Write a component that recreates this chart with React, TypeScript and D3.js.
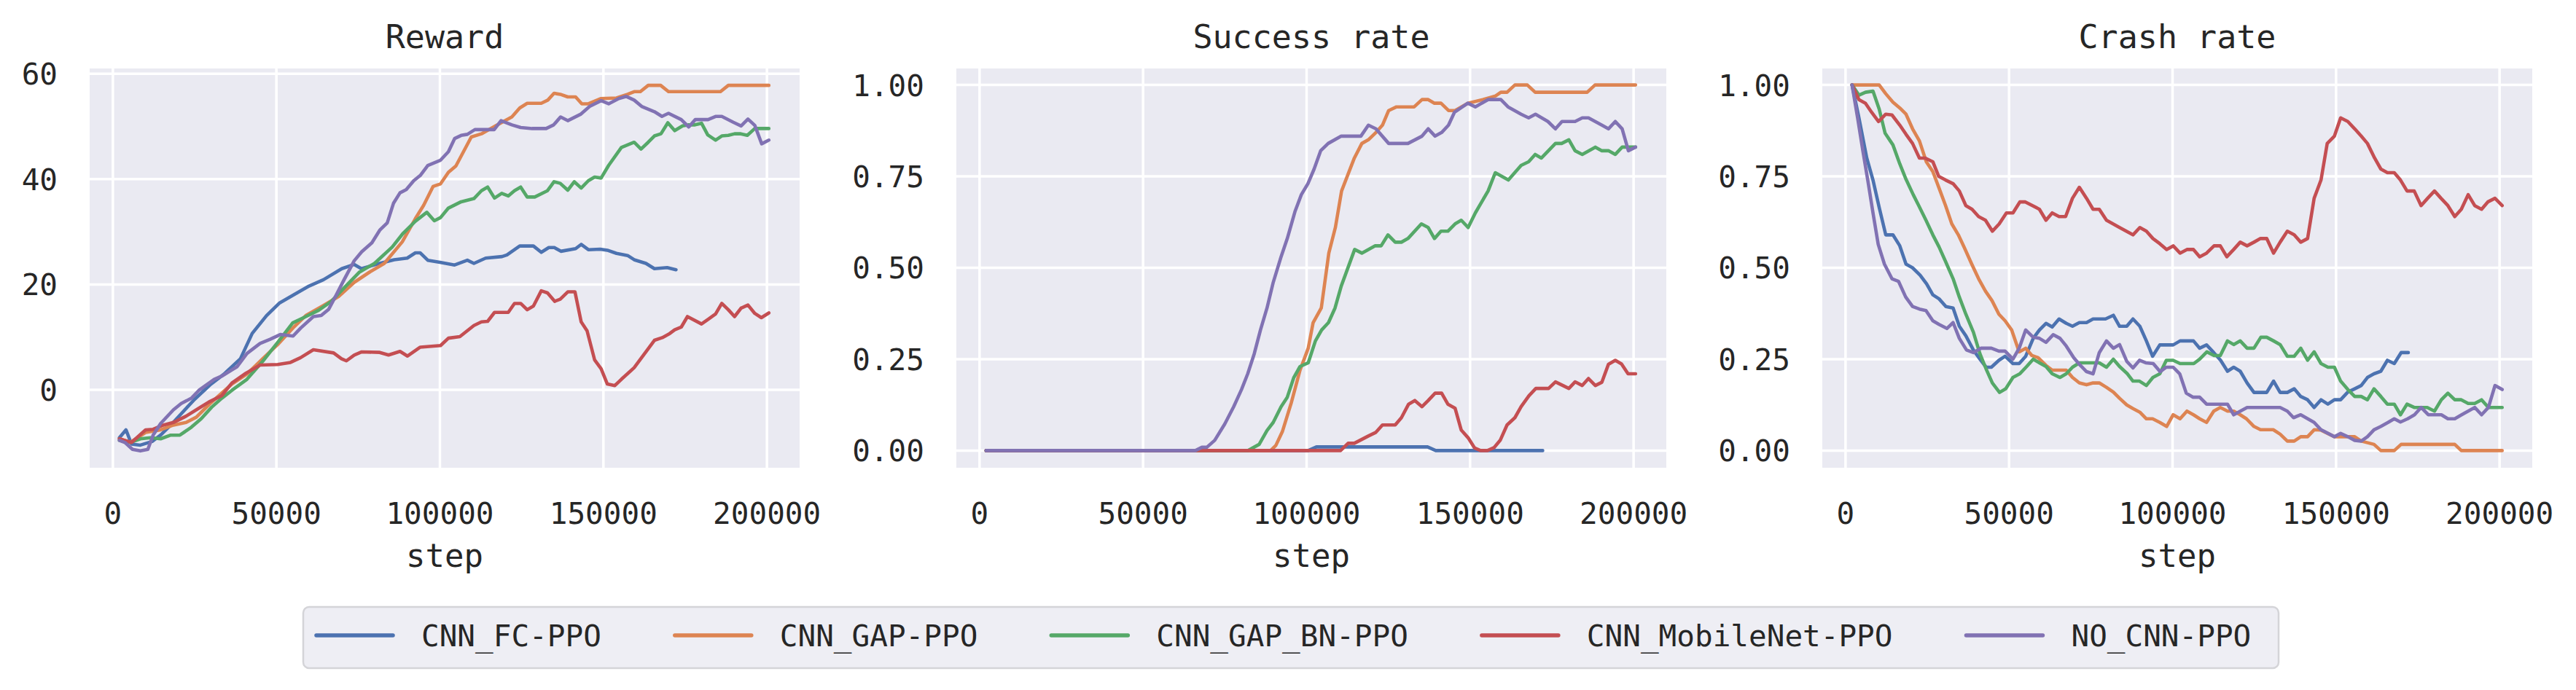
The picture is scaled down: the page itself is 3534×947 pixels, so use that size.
import { useEffect, useRef } from 'react'
import * as d3 from 'd3'

// steps are in thousands: [step (k), value]
type Pt = [number, number]

const rewardFc: Pt[] = [[2,-9.1],[4,-7.6],[5.7,-10.3],[8.4,-10.5],[12,-9.8],[14.6,-8.6],[17.7,-6.7],[22,-3.8],[25,-1.8],[30,1.1],[34,3],[39,5.9],[42.6,10.7],[47,14.1],[51,16.5],[56.6,18.5],[60,19.7],[64.4,20.9],[70,23],[73.8,23.8],[76,23],[81.6,24],[86,24.7],[90,25],[92.5,26],[94,26],[96.3,24.6],[100,24.2],[104.5,23.7],[108.4,24.6],[110.4,24],[114,25],[119,25.3],[120.5,25.6],[124.4,27.3],[128.6,27.3],[131,26.1],[133.3,27],[135,27],[137,26.3],[141.5,26.8],[143.2,27.6],[145.4,26.6],[149,26.7],[151.2,26.5],[154,25.9],[157.4,25.5],[159.4,24.7],[163,24],[165.6,23],[169.5,23.2],[172.2,22.8]]
const rewardGap: Pt[] = [[2,-9.3],[5.3,-10],[10,-8.1],[14.6,-7.6],[18.5,-6.7],[22.4,-6.2],[25.5,-5.2],[29.4,-2.8],[33.3,-0.6],[36.4,1.1],[41,3],[45.8,5.9],[50.4,8.6],[55,11.7],[59,14.1],[64.4,16],[69,17.7],[73.8,20.4],[78.4,22.3],[83,24],[88.5,28.1],[92.5,32.5],[95,35],[97.9,38.6],[100.2,39.1],[102.6,41.3],[104.9,42.5],[109.6,48],[112.7,48.6],[117,50.1],[122,51.8],[124.4,53.5],[126.7,54.4],[131,54.4],[133,55],[134.9,56.3],[136.8,56.1],[139.1,55.6],[141.5,55.6],[143.4,54.3],[145.4,54.3],[149.3,55.3],[154,55.4],[157.4,56.1],[159.4,56.6],[161.3,56.6],[163.7,57.8],[167.5,57.8],[169.9,56.6],[185.8,56.6],[188.2,57.8],[200.6,57.8]]
const rewardGapBn: Pt[] = [[2,-9.6],[5.3,-10],[8.4,-9.3],[11.5,-9.1],[14.6,-9.3],[17.7,-8.6],[20.5,-8.6],[24,-7.1],[27,-5.5],[30.2,-3.3],[33.3,-1.6],[36.4,-0.1],[41,2],[45.8,5.4],[50.4,9],[55,12.7],[59,13.9],[62.9,15.1],[66.8,16.8],[70,18.9],[75.3,22.3],[80,24],[85.4,27.1],[88.6,29.6],[92.5,32],[96,33.7],[98.3,32.1],[100.2,32.7],[102.6,34.5],[106.5,35.7],[110.4,36.3],[112.7,37.8],[114.6,38.5],[116.7,36.4],[118.9,37.3],[120.9,36.8],[122.8,37.8],[124.7,38.5],[126.7,36.6],[129,36.6],[132.9,37.8],[134.9,39.5],[136.8,39.2],[139.1,37.9],[141.1,39.5],[143.2,38.3],[145.4,39.7],[147.3,40.4],[149.3,40.2],[151.6,42.6],[155.5,46],[159.4,47],[161.5,45.7],[163.7,47],[165.6,48.2],[167.6,48.6],[169.7,50.7],[171.8,49.2],[174.2,50.1],[176.1,50.3],[178,50.3],[180,50.6],[181.9,48.4],[184.3,47.4],[186.2,48.2],[188.2,48.3],[190.1,48.6],[192,48.6],[194,48.3],[196.3,49.6],[200.6,49.6]]
const rewardMobile: Pt[] = [[2,-9.3],[5.7,-10],[10,-7.6],[12.3,-7.5],[15.4,-6.7],[18.5,-6.2],[22.4,-5],[26.3,-3.5],[29.4,-2.3],[33.3,-1.1],[36.4,1.3],[40.3,3],[45,4.7],[50.4,4.8],[54.3,5.2],[57.4,6.1],[61.3,7.6],[67.5,7],[69.9,5.9],[71.4,5.5],[73.8,6.6],[76.1,7.2],[81.6,7.1],[84.3,6.6],[87.8,7.3],[90.1,6.4],[94,8.1],[100.2,8.4],[102.6,9.8],[106.1,10.1],[110.4,12.2],[112.7,12.9],[114.6,13],[116.7,14.7],[120.9,14.7],[122.8,16.4],[124.7,16.4],[126.7,15.2],[128.6,15.9],[131,18.8],[132.9,18.4],[135.1,16.8],[136.8,17.2],[139.1,18.6],[141.3,18.6],[143.2,12.9],[145,11.2],[147.3,5.7],[149.3,4],[151.2,1.1],[153.5,0.8],[155.5,2],[159.4,4.2],[163.7,7.8],[165.6,9.4],[168,9.9],[170.3,10.7],[171.8,11.4],[173.8,11.9],[175.7,13.9],[180,12.5],[182.3,13.5],[184.3,14.4],[186.2,16.4],[188.2,15.2],[190.1,13.9],[192.1,15.5],[194.2,16.1],[196.3,14.5],[198.3,13.7],[200.6,14.6]]
const rewardNoCnn: Pt[] = [[2,-9.6],[3.7,-10],[6,-11.3],[8.4,-11.6],[10.7,-11.3],[12.3,-8.6],[14.6,-6.4],[18.5,-3.8],[20.9,-2.6],[24,-1.6],[26.3,-0.1],[31,2],[33.3,2.6],[38,4.4],[41,6.9],[45,8.8],[48.1,9.6],[51.2,10.5],[55.1,10.2],[57.4,11.7],[61.3,13.9],[63.7,14.1],[66,15.3],[68.3,18],[70.7,20.9],[73.8,24.5],[76.1,26.2],[79.2,27.9],[81.6,30.3],[83.9,31.7],[85.8,35.4],[87.8,37.4],[89.7,38],[92,39.7],[94,40.7],[96.3,42.6],[100.2,43.6],[102.6,45.2],[104.5,47.7],[106.5,48.3],[108.4,48.5],[110.7,49.4],[116.6,49.4],[118.7,51.1],[122,50.3],[124.7,49.8],[128.2,49.6],[132.5,49.6],[134.8,50.3],[136.9,51.8],[139.1,51.1],[143,52.3],[145.8,53.8],[149.3,54.9],[151.6,54.3],[154.7,55.3],[157,55.7],[159.4,55],[161.7,53.8],[165.6,52.8],[167.9,51.9],[169.9,52.5],[173.8,51.3],[176.1,49.9],[178.1,51.3],[182,51.3],[184.3,51.9],[186.2,51.9],[189.7,50.8],[192.1,50.1],[194.2,51.4],[196.3,50.2],[198.4,46.7],[200.6,47.4]]

const successFc: Pt[] = [[2,0],[100.5,0],[103,0.01],[137,0.01],[139.5,0],[172.2,0]]
const successGap: Pt[] = [[2,0],[89,0],[90.6,0.014],[92.6,0.052],[95.3,0.13],[98,0.22],[100.5,0.28],[102,0.35],[104.5,0.39],[106.8,0.54],[108.8,0.61],[110.7,0.71],[114.6,0.8],[116.9,0.84],[118.9,0.85],[121.2,0.87],[123.2,0.89],[125.1,0.93],[127.5,0.94],[132.9,0.94],[135.3,0.96],[137.2,0.96],[139.1,0.95],[141.1,0.95],[143.4,0.93],[145.4,0.93],[149.3,0.95],[151.6,0.955],[153.9,0.96],[157.8,0.97],[159.4,0.98],[161.3,0.98],[163.7,1],[167.5,1],[169.9,0.98],[185.8,0.98],[188.2,1],[200.6,1]]
const successGapBn: Pt[] = [[2,0],[82,0],[85.5,0.017],[87.9,0.055],[89.8,0.077],[92.2,0.12],[94.1,0.146],[96.1,0.2],[98,0.23],[100.5,0.24],[102.7,0.3],[104.6,0.33],[106.7,0.35],[108.7,0.39],[110.6,0.45],[114.7,0.55],[116.9,0.54],[120.9,0.56],[122.8,0.56],[124.9,0.59],[127.1,0.57],[129,0.57],[131,0.58],[135.1,0.62],[137.2,0.61],[139.1,0.58],[141.1,0.6],[143.2,0.6],[145.4,0.62],[147.3,0.63],[149.4,0.61],[151.6,0.65],[155.5,0.71],[157.7,0.76],[161.7,0.74],[165.6,0.78],[167.9,0.79],[169.9,0.81],[171.8,0.8],[176.1,0.84],[178,0.84],[180.2,0.85],[182.1,0.82],[184.3,0.81],[188.3,0.83],[190.3,0.82],[192.4,0.82],[194.4,0.81],[196.5,0.83],[200.6,0.83]]
const successMobile: Pt[] = [[2,0],[110.4,0],[112.7,0.02],[114.6,0.02],[118.9,0.04],[121.2,0.05],[123.2,0.07],[127.1,0.07],[129,0.09],[131.2,0.127],[133.1,0.137],[135.3,0.12],[137.2,0.137],[139.3,0.157],[141.3,0.157],[143.2,0.127],[145.4,0.116],[147.3,0.056],[149.4,0.035],[151.4,0.007],[153.2,0],[155.3,0],[157.3,0.008],[159.2,0.028],[161.3,0.07],[163.7,0.09],[165.6,0.12],[168,0.15],[170.1,0.17],[174,0.17],[176.1,0.188],[180.2,0.17],[182.1,0.188],[184.3,0.178],[186.2,0.197],[188.3,0.178],[190.3,0.187],[192.3,0.236],[194.4,0.247],[196.3,0.237],[198.3,0.21],[200.6,0.21]]
const successNoCnn: Pt[] = [[2,0],[66,0],[68,0.009],[69.5,0.009],[71.9,0.028],[75,0.073],[77.7,0.12],[80.1,0.167],[82,0.21],[84,0.265],[85.9,0.33],[87.9,0.39],[89.8,0.46],[92.2,0.53],[94.1,0.58],[96.5,0.655],[98.4,0.7],[100.4,0.73],[102.3,0.77],[104.3,0.82],[106.6,0.84],[110.6,0.86],[116.6,0.86],[118.9,0.89],[121.2,0.88],[125.1,0.84],[131,0.84],[135.3,0.86],[137.2,0.88],[139.3,0.86],[141.3,0.87],[143.4,0.89],[145.2,0.925],[149.3,0.95],[151.6,0.94],[155.5,0.96],[159.4,0.96],[161.6,0.94],[165.6,0.92],[167.9,0.91],[170,0.92],[173.8,0.9],[176.1,0.88],[178.1,0.9],[182.1,0.9],[184.3,0.91],[186.2,0.91],[190.3,0.89],[192.3,0.88],[194.4,0.9],[196.5,0.88],[198.4,0.82],[200.6,0.83]]

const crashFc: Pt[] = [[2,1],[4.1,0.91],[6.5,0.8],[8.4,0.74],[10.3,0.665],[12.3,0.59],[14.5,0.59],[16.6,0.56],[18.5,0.51],[20.5,0.5],[22.8,0.48],[24.8,0.456],[26.7,0.426],[28.6,0.415],[30.7,0.394],[32.9,0.39],[34.8,0.34],[36.8,0.314],[39.1,0.275],[41.1,0.25],[43,0.228],[44.6,0.228],[46.9,0.247],[48.8,0.258],[51.2,0.238],[53.1,0.238],[55.1,0.258],[57.4,0.307],[59.3,0.33],[61.3,0.348],[63.2,0.338],[65.3,0.36],[67.5,0.348],[69.4,0.34],[71.5,0.35],[73.7,0.35],[75.7,0.36],[79.5,0.36],[81.9,0.37],[83.8,0.34],[86,0.34],[87.9,0.36],[90,0.34],[92,0.3],[93.9,0.258],[96.1,0.289],[100.2,0.289],[102.3,0.3],[106.4,0.3],[108.3,0.28],[110.4,0.289],[112.6,0.268],[114.7,0.247],[116.8,0.217],[118.7,0.228],[120.7,0.217],[122.8,0.185],[124.9,0.159],[128.8,0.159],[130.9,0.19],[132.9,0.159],[135.1,0.159],[137.2,0.169],[139.2,0.148],[141.3,0.139],[143.3,0.118],[145.4,0.139],[147.5,0.127],[149.5,0.139],[151.4,0.139],[153.6,0.16],[155.7,0.169],[157.7,0.178],[159.6,0.2],[161.6,0.21],[163.7,0.217],[165.7,0.247],[167.8,0.238],[169.9,0.268],[172.1,0.268]]
const crashGap: Pt[] = [[2,1],[10.3,1],[12.3,0.976],[14.5,0.953],[16.6,0.937],[18.5,0.92],[20.5,0.88],[22.6,0.847],[24.7,0.79],[26.7,0.763],[28.6,0.718],[30.6,0.67],[32.5,0.62],[34.5,0.59],[36.4,0.554],[38.6,0.51],[40.7,0.47],[42.8,0.436],[44.8,0.41],[46.9,0.373],[48.8,0.355],[50.8,0.33],[53.1,0.27],[55.1,0.28],[57,0.26],[58.9,0.254],[61.3,0.233],[63.2,0.22],[67.5,0.22],[69.4,0.2],[71.5,0.185],[73.7,0.18],[75.7,0.185],[77.6,0.185],[79.8,0.173],[81.9,0.16],[83.8,0.143],[86,0.125],[87.9,0.115],[90,0.105],[92,0.087],[93.9,0.087],[96.1,0.077],[98.2,0.066],[100.2,0.098],[102.3,0.087],[104.4,0.108],[106.4,0.098],[108.3,0.087],[110.4,0.077],[112.6,0.108],[114.6,0.118],[116.8,0.108],[118.7,0.108],[120.7,0.098],[122.6,0.087],[124.9,0.066],[126.9,0.057],[130.8,0.057],[132.9,0.045],[135.1,0.026],[137.2,0.026],[139.2,0.038],[141.3,0.038],[143.3,0.057],[145.4,0.056],[149.5,0.038],[155.7,0.038],[157.7,0.026],[161.6,0.017],[163.7,0],[167.8,0],[169.9,0.017],[186.3,0.017],[188.3,0],[200.8,0]]
const crashGapBn: Pt[] = [[2,1],[4.1,0.972],[6.1,0.98],[8.4,0.983],[10.3,0.934],[12.1,0.868],[14.5,0.836],[16.6,0.784],[18.5,0.742],[20.7,0.7],[22.4,0.67],[24.6,0.63],[26.7,0.59],[28.6,0.557],[30.7,0.515],[32.9,0.47],[34.8,0.42],[36.8,0.373],[39.1,0.324],[41.1,0.265],[43,0.223],[44.9,0.185],[47.1,0.159],[49,0.169],[51.2,0.2],[53.3,0.21],[55.4,0.23],[57.4,0.25],[59.3,0.24],[61.3,0.23],[63.2,0.21],[65.6,0.2],[67.5,0.21],[69.4,0.228],[71.5,0.24],[77.6,0.24],[79.8,0.228],[81.9,0.25],[83.8,0.23],[86.2,0.21],[87.9,0.19],[89.9,0.19],[92,0.178],[94,0.2],[96.1,0.21],[98.1,0.247],[100.2,0.247],[102.3,0.238],[106.5,0.238],[108.3,0.25],[110.5,0.27],[112.7,0.26],[114.6,0.26],[116.8,0.3],[118.7,0.29],[120.7,0.3],[122.8,0.28],[124.9,0.28],[127,0.31],[128.8,0.31],[130.9,0.3],[132.9,0.29],[135.1,0.258],[137.2,0.258],[139.2,0.28],[141.3,0.247],[143.3,0.27],[145.4,0.238],[147.5,0.228],[149.5,0.228],[151.4,0.19],[153.6,0.167],[155.7,0.148],[157.7,0.148],[159.6,0.139],[161.6,0.169],[163.7,0.148],[165.7,0.127],[167.8,0.127],[169.7,0.098],[171.7,0.127],[173.9,0.118],[177.9,0.118],[180.1,0.108],[182.2,0.139],[184.2,0.157],[186.3,0.139],[188.3,0.139],[190.4,0.129],[192.4,0.129],[194.5,0.139],[196.6,0.118],[200.8,0.118]]
const crashMobile: Pt[] = [[2,1],[4.1,0.96],[6.1,0.95],[8,0.925],[10.1,0.9],[12.3,0.92],[14.2,0.918],[16.6,0.89],[18.5,0.865],[20.5,0.84],[22.6,0.8],[24.3,0.8],[26.7,0.79],[28.5,0.75],[30.6,0.74],[32.9,0.73],[34.8,0.71],[36.8,0.67],[38.7,0.66],[40.7,0.64],[42.8,0.63],[44.9,0.6],[47,0.62],[49.2,0.65],[51.2,0.65],[53.3,0.68],[55,0.68],[59.3,0.66],[61.3,0.63],[63.2,0.65],[65.3,0.64],[67.3,0.64],[69.4,0.69],[71.5,0.72],[73.7,0.69],[75.7,0.66],[77.6,0.66],[79.8,0.63],[83.8,0.61],[87.9,0.59],[90,0.61],[92,0.6],[94,0.58],[96.1,0.566],[98.2,0.55],[100.2,0.56],[102.3,0.54],[104.4,0.55],[106.4,0.55],[108.3,0.53],[110.4,0.54],[112.7,0.56],[114.6,0.56],[116.6,0.53],[118.7,0.55],[120.7,0.57],[122.8,0.56],[124.9,0.57],[126.9,0.58],[128.8,0.58],[130.9,0.54],[132.9,0.57],[135.1,0.6],[137.2,0.59],[139.2,0.57],[141.3,0.58],[143.3,0.69],[145.4,0.74],[147.3,0.84],[149.5,0.86],[151.4,0.91],[153.6,0.9],[155.7,0.88],[157.7,0.86],[159.6,0.84],[161.8,0.8],[163.7,0.77],[165.7,0.76],[167.8,0.76],[169.7,0.74],[171.7,0.71],[173.9,0.71],[176,0.67],[178,0.69],[180.1,0.71],[182.1,0.69],[184.2,0.67],[186.3,0.64],[188.3,0.66],[190.4,0.7],[192.4,0.67],[194.5,0.66],[196.4,0.68],[198.6,0.69],[200.8,0.67]]
const crashNoCnn: Pt[] = [[2,1],[3.7,0.91],[5.3,0.82],[6.8,0.74],[8.4,0.65],[10,0.564],[11.9,0.51],[14.2,0.47],[16.2,0.463],[18.4,0.42],[20.5,0.394],[22.6,0.387],[24.6,0.383],[26.7,0.355],[28.6,0.345],[31,0.334],[32.9,0.35],[34.8,0.307],[37,0.275],[39.1,0.268],[41.4,0.28],[44.6,0.28],[46.9,0.272],[48.8,0.272],[51.2,0.25],[53.1,0.28],[55.1,0.33],[57.4,0.31],[59.3,0.307],[61.3,0.296],[63.5,0.317],[65.6,0.307],[67.5,0.286],[69.8,0.254],[71.8,0.233],[73.7,0.216],[75.7,0.21],[77.6,0.268],[79.8,0.3],[81.9,0.28],[83.8,0.29],[86,0.244],[87.9,0.226],[89.9,0.247],[91.8,0.24],[94.1,0.238],[96.2,0.216],[98.1,0.228],[100.2,0.228],[102.2,0.21],[104.2,0.157],[106.3,0.146],[108.3,0.146],[110.4,0.127],[116.8,0.127],[118.7,0.098],[122.8,0.118],[132.9,0.118],[135.1,0.108],[137,0.09],[139.2,0.098],[143.3,0.077],[145.4,0.057],[149.5,0.038],[151.4,0.047],[153.6,0.038],[155.7,0.028],[157.7,0.026],[159.6,0.038],[161.6,0.057],[163.7,0.066],[165.9,0.077],[167.8,0.087],[169.7,0.078],[171.9,0.087],[174,0.098],[176,0.118],[178.2,0.098],[182.2,0.098],[184.2,0.087],[186.3,0.087],[188.4,0.098],[192.4,0.118],[194.5,0.098],[196.6,0.118],[198.6,0.178],[200.8,0.167]]

const seriesNames = ['CNN_FC-PPO', 'CNN_GAP-PPO', 'CNN_GAP_BN-PPO', 'CNN_MobileNet-PPO', 'NO_CNN-PPO']
const colors = ['#4c72b0', '#dd8452', '#55a868', '#c44e52', '#8172b3']

const xTicks = [0, 50000, 100000, 150000, 200000]
const rewardTicks = [0, 20, 40, 60]
const rateTicks = [0, 0.25, 0.5, 0.75, 1]

const panels = [
  { title: 'Reward', series: [rewardFc, rewardGap, rewardGapBn, rewardMobile, rewardNoCnn], yDomain: [-14.8, 61.0], ticks: rewardTicks, fmt: (d: number) => `${d}` },
  { title: 'Success rate', series: [successFc, successGap, successGapBn, successMobile, successNoCnn], yDomain: [-0.047, 1.045], ticks: rateTicks, fmt: d3.format('.2f') },
  { title: 'Crash rate', series: [crashFc, crashGap, crashGapBn, crashMobile, crashNoCnn], yDomain: [-0.047, 1.045], ticks: rateTicks, fmt: d3.format('.2f') },
]

export default function App() {
  const svgRef = useRef<SVGSVGElement>(null)

  useEffect(() => {
    if (!svgRef.current) return
    const svg = d3.select(svgRef.current)
    svg.selectAll('*').remove()

    const font = '"DejaVu Sans Mono", "Liberation Mono", monospace'
    const textColor = '#262626'
    const panelLeft = [123, 1312, 2500]
    const panelW = 974
    const top = 94
    const bottom = 642

    panels.forEach((p, i) => {
      const left = panelLeft[i]
      const x = d3.scaleLinear().domain([-7100, 210000]).range([left, left + panelW])
      const y = d3.scaleLinear().domain(p.yDomain).range([bottom, top])
      const g = svg.append('g')

      g.append('rect')
        .attr('x', left).attr('y', top)
        .attr('width', panelW).attr('height', bottom - top)
        .attr('fill', '#eaeaf2')

      // grid
      g.selectAll('.vgrid').data(xTicks).enter().append('line')
        .attr('x1', d => x(d)).attr('x2', d => x(d))
        .attr('y1', top).attr('y2', bottom)
        .attr('stroke', '#fff').attr('stroke-width', 3.5)
      g.selectAll('.hgrid').data(p.ticks).enter().append('line')
        .attr('x1', left).attr('x2', left + panelW)
        .attr('y1', d => y(d)).attr('y2', d => y(d))
        .attr('stroke', '#fff').attr('stroke-width', 3.5)

      // tick labels
      g.selectAll('.xt').data(xTicks).enter().append('text')
        .attr('x', d => x(d)).attr('y', 719)
        .attr('text-anchor', 'middle')
        .attr('font-family', font).attr('font-size', 41)
        .attr('fill', textColor)
        .text(d => `${d}`)
      g.selectAll('.yt').data(p.ticks).enter().append('text')
        .attr('x', left - 44).attr('y', d => y(d) + 15)
        .attr('text-anchor', 'end')
        .attr('font-family', font).attr('font-size', 41)
        .attr('fill', textColor)
        .text(d => p.fmt(d))

      // lines
      const line = d3.line<Pt>()
        .x(d => x(d[0] * 1000))
        .y(d => y(d[1]))
      p.series.forEach((s, j) => {
        g.append('path')
          .datum(s)
          .attr('fill', 'none')
          .attr('stroke', colors[j])
          .attr('stroke-width', 4.6)
          .attr('stroke-linejoin', 'round')
          .attr('stroke-linecap', 'round')
          .attr('d', line)
      })

      // title and x label
      g.append('text')
        .attr('x', left + panelW / 2).attr('y', 66)
        .attr('text-anchor', 'middle')
        .attr('font-family', font).attr('font-size', 45)
        .attr('fill', textColor)
        .text(p.title)
      g.append('text')
        .attr('x', left + panelW / 2).attr('y', 778)
        .attr('text-anchor', 'middle')
        .attr('font-family', font).attr('font-size', 44)
        .attr('fill', textColor)
        .text('step')
    })

    // legend
    const legend = svg.append('g')
    legend.append('rect')
      .attr('x', 416).attr('y', 833)
      .attr('width', 3126 - 416).attr('height', 917 - 833)
      .attr('rx', 8)
      .attr('fill', '#eeeef4')
      .attr('stroke', '#d4d4d8').attr('stroke-width', 2.5)

    const charW = 41 * 0.602
    let lx = 434
    seriesNames.forEach((name, j) => {
      legend.append('line')
        .attr('x1', lx).attr('x2', lx + 105)
        .attr('y1', 872).attr('y2', 872)
        .attr('stroke', colors[j]).attr('stroke-width', 5.5)
        .attr('stroke-linecap', 'round')
      legend.append('text')
        .attr('x', lx + 144).attr('y', 887)
        .attr('font-family', font).attr('font-size', 41)
        .attr('fill', textColor)
        .text(name)
      lx += 144 + name.length * charW + 101
    })
  }, [])

  return (
    <svg
      ref={svgRef}
      width={3534}
      height={947}
      style={{ position: 'absolute', left: 0, top: 0, background: '#fff' }}
    />
  )
}
